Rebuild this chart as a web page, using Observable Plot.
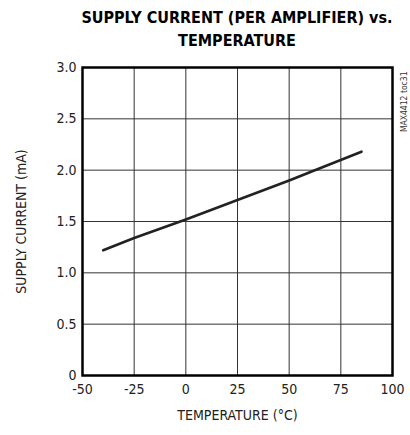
<!DOCTYPE html>
<html>
<head>
<meta charset="utf-8">
<script src="https://cdn.jsdelivr.net/npm/d3@7"></script>
<script src="https://cdn.jsdelivr.net/npm/@observablehq/plot@0.6"></script>
<style>
  body { margin: 0; background: #fff; width: 410px; height: 435px; overflow: hidden; }
  #title { font-family: "DejaVu Sans Condensed", "Liberation Sans Narrow", Roboto, sans-serif; font-weight: bold; font-size: 16px; line-height: 23px; text-align: center; width: 330px; margin-left: 72px; padding-top: 6px; height: 46px; color: #000; }
</style>
</head>
<body>
<div id="title">SUPPLY CURRENT (PER AMPLIFIER) vs.<br>TEMPERATURE</div>
<div id="chart"></div>
<script>
const temperature = [-40, -25, 0, 25, 50, 60, 85];
const supplyCurrent = [1.22, 1.34, 1.52, 1.71, 1.90, 1.98, 2.18];
const xTicks = [-50, -25, 0, 25, 50, 75, 100];
const yTicks = [0, 0.5, 1.0, 1.5, 2.0, 2.5, 3.0];
const data = temperature.map((t, i) => ({t, c: supplyCurrent[i]}));
const font = '"DejaVu Sans Condensed", "Liberation Sans Narrow", Roboto, sans-serif';

const chart = Plot.plot({
  width: 410,
  height: 383,
  marginTop: 15,
  marginLeft: 82,
  marginRight: 18,
  marginBottom: 60,
  style: {fontFamily: font, fontSize: "14px", color: "#222", background: "#fff"},
  x: {domain: [-50, 100]},
  y: {domain: [0, 3]},
  marks: [
    Plot.gridX(xTicks, {stroke: "#333", strokeOpacity: 1, strokeWidth: 1}),
    Plot.gridY(yTicks, {stroke: "#333", strokeOpacity: 1, strokeWidth: 1}),
    Plot.axisX(xTicks, {tickSize: 0, tickPadding: 9, tickFormat: d => String(d), label: "TEMPERATURE (°C)", labelAnchor: "center", labelArrow: "none", labelOffset: 44, fontSize: 14}),
    Plot.axisY(yTicks, {tickSize: 0, tickPadding: 6, tickFormat: d => d === 0 ? "0" : d.toFixed(1), label: "SUPPLY CURRENT (mA)", labelAnchor: "center", labelArrow: "none", labelOffset: 66, fontSize: 14}),
    Plot.line(data, {x: "t", y: "c", stroke: "#222", strokeWidth: 2.6}),
    Plot.frame({stroke: "#000", strokeWidth: 2.5}),
    Plot.text(["MAX4412 toc31"], {frameAnchor: "top-right", dx: 8, dy: 4, rotate: -90, textAnchor: "end", fontSize: 8.5, fill: "#333"})
  ]
});
document.getElementById("chart").appendChild(chart);
</script>
</body>
</html>
